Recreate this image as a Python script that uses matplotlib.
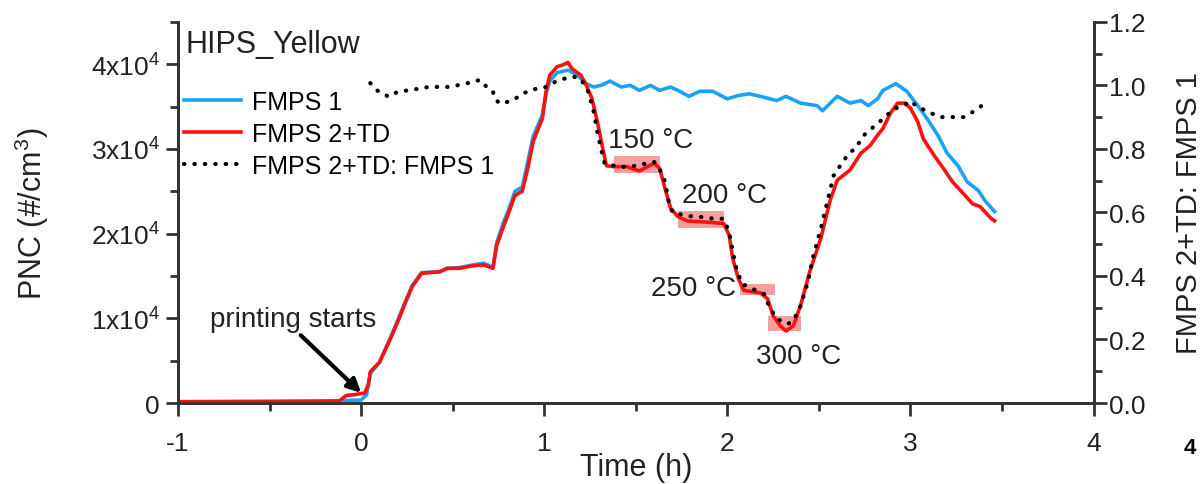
import numpy as np
import matplotlib
matplotlib.use("Agg")
import matplotlib.pyplot as plt
from matplotlib.ticker import MultipleLocator, FixedLocator
from matplotlib.patches import Rectangle

plt.rcParams['font.family'] = ['Liberation Sans', 'DejaVu Sans']
plt.rcParams['mathtext.fontset'] = 'custom'
plt.rcParams['mathtext.rm'] = 'Liberation Sans'
plt.rcParams['mathtext.it'] = 'Liberation Sans'

# FMPS 1 (blue), time in h, PNC in #/cm3
t_fmps1 = [-1.0, -0.5, -0.12, -0.08, 0.0, 0.03, 0.05, 0.10, 0.16, 0.20, 0.25, 0.28, 0.33,
           0.43, 0.47, 0.54, 0.61, 0.67, 0.72, 0.74, 0.78, 0.80, 0.84, 0.88, 0.91, 0.94,
           0.99, 1.01, 1.03, 1.07, 1.13, 1.18, 1.23, 1.27, 1.31, 1.36, 1.42, 1.47, 1.52,
           1.58, 1.63, 1.69, 1.74, 1.79, 1.85, 1.92, 2.00, 2.06, 2.12, 2.18, 2.27, 2.32,
           2.40, 2.49, 2.52, 2.60, 2.67, 2.73, 2.77, 2.82, 2.85, 2.92, 2.98, 3.04, 3.09,
           3.15, 3.20, 3.26, 3.31, 3.37, 3.41, 3.46]
pnc_fmps1 = [150, 180, 200, 300, 350, 1000, 3500, 4800, 7700, 9800, 12400, 13900, 15400,
             15500, 15900, 16000, 16300, 16500, 16000, 18900, 21500, 22500, 25000, 25500,
             28500, 31500, 34000, 36500, 38000, 39000, 39300, 38700, 37700, 37300, 37500,
             38000, 37300, 37500, 36900, 37500, 36900, 37300, 36800, 36200, 36800, 36800,
             35900, 36300, 36500, 36200, 35700, 36200, 35400, 35100, 34500, 36200, 35400,
             35700, 35100, 35900, 36900, 37700, 36800, 35100, 33600, 31600, 29500, 28000,
             26100, 25100, 23800, 22600]

# FMPS 2+TD (red)
t_fmps2 = [-1.0, -0.5, -0.12, -0.08, -0.03, 0.02, 0.04, 0.05, 0.10, 0.16, 0.20, 0.25, 0.28,
           0.33, 0.43, 0.47, 0.54, 0.61, 0.67, 0.72, 0.74, 0.78, 0.80, 0.84, 0.88, 0.91,
           0.94, 0.99, 1.01, 1.03, 1.07, 1.10, 1.13, 1.15, 1.20, 1.23, 1.26, 1.29, 1.32,
           1.34, 1.38, 1.45, 1.52, 1.60, 1.63, 1.66, 1.69, 1.73, 1.78, 1.85, 1.92, 1.98,
           2.01, 2.03, 2.06, 2.09, 2.18, 2.22, 2.25, 2.29, 2.32, 2.36, 2.40, 2.45, 2.51,
           2.56, 2.60, 2.67, 2.73, 2.78, 2.82, 2.85, 2.89, 2.93, 2.97, 3.00, 3.04, 3.07,
           3.13, 3.18, 3.23, 3.29, 3.34, 3.38, 3.44, 3.46]
pnc_fmps2 = [150, 180, 250, 900, 1000, 1200, 2200, 3700, 4800, 7600, 9600, 12300, 13800,
             15300, 15500, 15900, 15900, 16200, 16300, 15900, 18600, 21000, 22100, 24500,
             25000, 27700, 30900, 33600, 36800, 38700, 39700, 39900, 40200, 39500, 38700,
             37500, 36000, 33200, 30000, 28000, 27900, 27900, 27400, 28300, 27700, 25300,
             23000, 22000, 21500, 21400, 21300, 21200, 19800, 17000, 14700, 13300, 13000,
             12300, 10300, 9100, 8500, 9100, 11500, 15500, 19400, 23800, 26300, 27500,
             29500, 30400, 31600, 32400, 34200, 35400, 35400, 34800, 33200, 31200, 29200,
             27700, 26100, 24700, 23500, 23200, 21800, 21500]

# ratio FMPS 2+TD : FMPS 1
t_ratio = [0.05, 0.09, 0.15, 0.20, 0.28, 0.37, 0.48, 0.57, 0.65, 0.69, 0.72, 0.73, 0.76,
           0.80, 0.84, 0.88, 0.93, 1.01, 1.06, 1.13, 1.18, 1.21, 1.24, 1.27, 1.29, 1.31,
           1.33, 1.42, 1.49, 1.60, 1.63, 1.66, 1.68, 1.70, 1.78, 1.85, 1.93, 1.98, 2.01,
           2.03, 2.05, 2.08, 2.14, 2.20, 2.23, 2.27, 2.33, 2.36, 2.40, 2.44, 2.47, 2.51,
           2.55, 2.58, 2.63, 2.67, 2.70, 2.74, 2.80, 2.85, 2.91, 2.96, 3.00, 3.04, 3.10,
           3.16, 3.25, 3.29, 3.34, 3.40]
ratio = [1.007, 0.983, 0.964, 0.98, 0.986, 0.995, 0.995, 1.005, 1.017, 0.992, 0.98, 0.957,
         0.942, 0.948, 0.957, 0.973, 0.986, 0.995, 1.011, 1.025, 1.027, 1.01, 0.98, 0.917,
         0.854, 0.80, 0.753, 0.743, 0.746, 0.759, 0.737, 0.696, 0.633, 0.60, 0.589, 0.586,
         0.58, 0.58, 0.538, 0.475, 0.422, 0.375, 0.359, 0.343, 0.302, 0.265, 0.249, 0.258,
         0.306, 0.381, 0.463, 0.548, 0.643, 0.715, 0.759, 0.79, 0.80, 0.84, 0.87, 0.894,
         0.926, 0.935, 0.951, 0.932, 0.916, 0.90, 0.90, 0.90, 0.916, 0.94]

# thermodenuder steps
step_labels = ['150 \u00b0C', '200 \u00b0C', '250 \u00b0C', '300 \u00b0C']
step_t0 = [1.38, 1.73, 2.07, 2.22]
step_t1 = [1.63, 1.98, 2.26, 2.40]
step_lo = [27200, 20600, 12800, 8500]
step_hi = [29200, 22700, 14100, 10300]

axis_col = '#333333'
txt_col = '#222222'
fig = plt.figure(figsize=(12.03, 4.85), dpi=100)
ax = fig.add_axes([0.148, 0.167, 0.761, 0.786])
ax2 = ax.twinx()

for a in (ax, ax2):
    a.spines['top'].set_visible(False)
    for s in ('left', 'bottom', 'right'):
        a.spines[s].set_linewidth(2)
        a.spines[s].set_color(axis_col)

for i in range(len(step_t0)):
    ax.add_patch(Rectangle((step_t0[i], step_lo[i]), step_t1[i] - step_t0[i],
                           step_hi[i] - step_lo[i], facecolor='#f5a0a0',
                           edgecolor='none', zorder=1))

l1, = ax.plot(t_fmps1, pnc_fmps1, color='#1aa3f5', lw=2.6, label='FMPS 1', zorder=3)
l2, = ax.plot(t_fmps2, pnc_fmps2, color='#ff1010', lw=2.6, label='FMPS 2+TD', zorder=4)
l3, = ax2.plot(t_ratio, ratio, color='black', lw=3, linestyle=(0, (0.1, 2.4)),
               dash_capstyle='round', label='FMPS 2+TD: FMPS 1')

ax.set_xlim(-1, 4)
ax.set_ylim(0, 45000)
ax2.set_ylim(0, 1.2)

ax.xaxis.set_major_locator(FixedLocator([-1, 0, 1, 2, 3, 4]))
ax.set_xticklabels(['-1', '0', '1', '2', '3', '4'])
ax.xaxis.set_minor_locator(MultipleLocator(0.5))

ax.yaxis.set_major_locator(FixedLocator([0, 10000, 20000, 30000, 40000]))
ax.set_yticklabels(['0', '1x10$^4$', '2x10$^4$', '3x10$^4$', '4x10$^4$'])
ax.yaxis.set_minor_locator(MultipleLocator(5000))

r_ticks = [0.0, 0.2, 0.4, 0.6, 0.8, 1.0, 1.2]
ax2.yaxis.set_major_locator(FixedLocator(r_ticks))
ax2.set_yticklabels(['%.1f' % v for v in r_ticks])
ax2.yaxis.set_minor_locator(MultipleLocator(0.1))

for a in (ax, ax2):
    a.tick_params(which='major', direction='out', length=9, width=2, color=axis_col,
                  labelsize=19, labelcolor=txt_col)
    a.tick_params(which='minor', direction='out', length=5.5, width=2, color=axis_col)
ax.tick_params(axis='x', which='major', pad=11)
ax.tick_params(axis='y', which='major', pad=4)
ax2.tick_params(axis='y', which='major', pad=2.5)

ax.set_xlabel('Time (h)', fontsize=22, color=txt_col, labelpad=-2)
ax.set_ylabel('PNC (#/cm$^3$)', fontsize=22, color=txt_col)
ax.yaxis.set_label_coords(-0.139, 0.5)
ax2.set_ylabel('FMPS 2+TD: FMPS 1', fontsize=21, color=txt_col)
ax2.yaxis.set_label_coords(1.0885, 0.5)

ax.text(0.008, 0.942, 'HIPS_Yellow', transform=ax.transAxes, fontsize=22,
        color=txt_col, va='center', ha='left')

ax.legend(handles=[l1, l2, l3], loc='upper left', bbox_to_anchor=(0.006, 0.822),
          frameon=False, fontsize=18, handlelength=2.3, handletextpad=0.45,
          labelspacing=0.32, borderaxespad=0, borderpad=0)

# step labels
ax.text(1.35, 31100, step_labels[0], fontsize=20, color=txt_col, va='center', ha='left')
ax.text(1.75, 24500, step_labels[1], fontsize=20, color=txt_col, va='center', ha='left')
ax.text(2.05, 13600, step_labels[2], fontsize=20, color=txt_col, va='center', ha='right')
ax.text(2.39, 5500, step_labels[3], fontsize=20, color=txt_col, va='center', ha='center')

ax.text(-0.37, 9900, 'printing starts', fontsize=20, color=txt_col, ha='center', va='center')
ax.annotate('', xy=(0.0, 1200), xytext=(-0.33, 8000),
            arrowprops=dict(arrowstyle='-|>,head_length=0.8,head_width=0.4',
                            color='black', lw=3, shrinkA=0, shrinkB=0))

fig.text(0.989, 0.075, '4', fontsize=16, fontweight='bold', ha='center', va='center')

fig.savefig('out.png', dpi=100)
